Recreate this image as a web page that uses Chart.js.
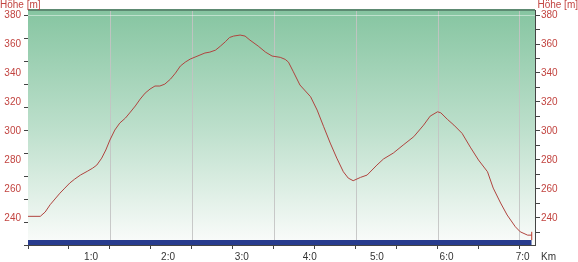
<!DOCTYPE html>
<html>
<head>
<meta charset="utf-8">
<script src="https://cdn.jsdelivr.net/npm/chart.js@4.4.1/dist/chart.umd.min.js"></script>
<style>
  body { margin: 0; background: #fff; }
  canvas { display: block; }
</style>
</head>
<body>
<canvas id="chart" width="578" height="262"></canvas>
<script>
// elevation profile
var distKm = [0, 0.15, 0.21, 0.27, 0.33, 0.39, 0.45, 0.51, 0.57, 0.64, 0.73, 0.79, 0.84, 0.90, 0.95,
  1.00, 1.06, 1.12, 1.19, 1.25, 1.31, 1.37, 1.43, 1.49, 1.55, 1.61, 1.67, 1.74, 1.80, 1.86, 1.92, 1.98,
  2.04, 2.10, 2.16, 2.22, 2.29, 2.35, 2.41, 2.46, 2.51, 2.59, 2.65, 2.71, 2.81, 2.90, 2.98,
  3.08, 3.14, 3.18, 3.24, 3.32, 3.45, 3.53, 3.61, 3.69, 3.77, 3.85, 3.91, 3.97,
  4.06, 4.14, 4.26, 4.34, 4.46, 4.58, 4.71, 4.83, 4.91, 5.00,
  5.04, 5.12, 5.20, 5.30, 5.40, 5.50, 5.61, 5.68, 5.77, 5.85, 5.95, 6.01, 6.10, 6.15];
var heightM = [241, 241, 244, 249, 253, 257, 260.5, 264, 266.7, 269.5, 272.3, 274.3, 276.4, 281.2, 286.8,
  293.7, 300.6, 305.4, 308.9, 313, 317.2, 322, 326.1, 328.9, 331, 331, 332.3, 335.8, 339.9, 344.8, 347.5, 349.6,
  351, 352.4, 353.8, 354.4, 355.8, 358.6, 361.6, 364.5, 365.5, 366.2, 365.5, 362.7, 358.6, 354.4, 351.7,
  350.8, 349.4, 347.5, 340.8, 331.7, 323.6, 314.4, 302.9, 291.6, 281.2, 271.8, 267.4, 265.6,
  267.9, 269.5, 276.4, 280.6, 284.7, 290.2, 296, 304, 310.2, 313.2,
  312.5, 308, 304, 298.3, 288.8, 279.9, 271.8, 260.5, 250.2, 241.9, 233.8, 230.3, 228, 228];

// blue strip along the bottom of the profile
var bandKm = [0, 6.15];
var bandTop = 224.6;
var endMark = [224.6, 230.3];

// axes
var yMin = 221.2, yMax = 383.5;
var xMax = 6.19;
var yLabels = [240, 260, 280, 300, 320, 340, 360, 380];
var timeLabelKm = [0.77, 1.71, 2.61, 3.44, 4.26, 5.11, 6.04];
var timeLabels = ["1:0", "2:0", "3:0", "4:0", "5:0", "6:0", "7:0"];

var leftMarks = [];
for (var k = 0; k <= 10; k++) leftMarks.push(yMin + k * (380 - yMin) / 10);

var profile = distKm.map(function (d, i) { return { x: d, y: heightM[i] }; });
var band = bandKm.map(function (d) { return { x: d, y: bandTop }; });
var endLine = endMark.map(function (v) { return { x: bandKm[1], y: v }; });

var red = "#c24440";
var font = { family: "'Liberation Sans', Arial, sans-serif", size: 10 };

function isMark(v) {
  return leftMarks.some(function (m) { return Math.abs(m - v) < 0.01; });
}

var backdrop = {
  id: "backdrop",
  beforeDatasetsDraw: function (chart) {
    var a = chart.chartArea, c = chart.ctx;
    c.save();
    var g = c.createLinearGradient(0, a.top, 0, a.bottom);
    g.addColorStop(0, "#86c5a1");
    g.addColorStop(0.5, "#bcdfcb");
    g.addColorStop(1, "#fbfcfb");
    c.fillStyle = g;
    c.fillRect(a.left, a.top, a.right - a.left, a.bottom - a.top);
    // redraw vertical km lines on top of the gradient
    var xs = chart.scales.x;
    c.strokeStyle = "rgba(195,195,195,0.9)";
    c.lineWidth = 1;
    for (var km = 1; km < xMax; km++) {
      var px = Math.round(xs.getPixelForValue(km)) + 0.5;
      c.beginPath();
      c.moveTo(px, a.top);
      c.lineTo(px, a.bottom);
      c.stroke();
    }
    // light line at 380
    var py = Math.round(chart.scales.y.getPixelForValue(380)) + 0.5;
    c.strokeStyle = "rgba(255,255,255,0.45)";
    c.beginPath();
    c.moveTo(a.left, py);
    c.lineTo(a.right, py);
    c.stroke();
    c.restore();
  },
  afterDraw: function (chart) {
    var a = chart.chartArea, c = chart.ctx;
    c.save();
    c.fillStyle = "#5d8a72";
    c.fillRect(a.left, a.top - 1, a.right - a.left, 2);
    c.font = "10px 'Liberation Sans', Arial, sans-serif";
    c.fillStyle = red;
    c.textBaseline = "top";
    c.textAlign = "left";
    c.fillText("Höhe [m]", 0, 0);
    c.textAlign = "right";
    c.fillText("Höhe [m]", 578, 0);
    c.fillStyle = "#333";
    c.textBaseline = "middle";
    c.textAlign = "center";
    var xs = chart.scales.x;
    timeLabelKm.forEach(function (km, i) {
      c.fillText(timeLabels[i], xs.getPixelForValue(km), 257);
    });
    c.textAlign = "left";
    c.fillText("Km", 541, 257);
    c.restore();
  }
};

new Chart(document.getElementById("chart"), {
  type: "line",
  data: {
    datasets: [
      {
        data: profile,
        borderColor: "#b0443f",
        borderWidth: 1,
        pointRadius: 0,
        tension: 0,
        fill: false
      },
      {
        data: endLine,
        borderColor: "#c0392b",
        borderWidth: 1,
        pointRadius: 0,
        fill: false
      },
      {
        data: band,
        borderWidth: 0,
        borderColor: "rgba(0,0,0,0)",
        backgroundColor: "#283c8e",
        pointRadius: 0,
        fill: "start"
      }
    ]
  },
  options: {
    responsive: false,
    devicePixelRatio: 1,
    animation: false,
    layout: { padding: { top: 10, left: 0, right: 0, bottom: 0 } },
    plugins: { legend: { display: false }, tooltip: { enabled: false } },
    scales: {
      x: {
        type: "linear",
        min: 0,
        max: xMax,
        afterFit: function (s) { s.height = 17; },
        ticks: { stepSize: 0.5, includeBounds: false, autoSkip: false, callback: function () { return ""; } },
        grid: { drawOnChartArea: false, tickLength: 4, tickColor: "#444" },
        border: { color: "#444" }
      },
      y: {
        position: "left",
        min: yMin,
        max: yMax,
        afterFit: function (s) { s.width = 28; },
        afterBuildTicks: function (s) {
          var vals = leftMarks.slice();
          yLabels.forEach(function (v) { if (!isMark(v)) vals.push(v); });
          vals.sort(function (a, b) { return a - b; });
          s.ticks = vals.map(function (v) { return { value: v }; });
        },
        ticks: {
          autoSkip: false,
          color: red,
          font: font,
          padding: 3,
          callback: function (v) { return yLabels.indexOf(Math.round(v * 100) / 100) >= 0 ? String(v) : ""; }
        },
        grid: {
          drawOnChartArea: false,
          tickLength: 4,
          tickColor: function (ctx) { return ctx.tick && isMark(ctx.tick.value) ? "#444" : "rgba(0,0,0,0)"; }
        },
        border: { color: "#444" }
      },
      y2: {
        position: "right",
        min: yMin,
        max: yMax,
        afterFit: function (s) { s.width = 43; },
        ticks: {
          stepSize: 10,
          includeBounds: false,
          autoSkip: false,
          color: red,
          font: font,
          padding: 1,
          callback: function (v) { return v % 20 === 0 ? String(v) : ""; }
        },
        grid: { drawOnChartArea: false, tickLength: 5, tickColor: "#444" },
        border: { color: "#444" }
      }
    }
  },
  plugins: [backdrop]
});
</script>
</body>
</html>
